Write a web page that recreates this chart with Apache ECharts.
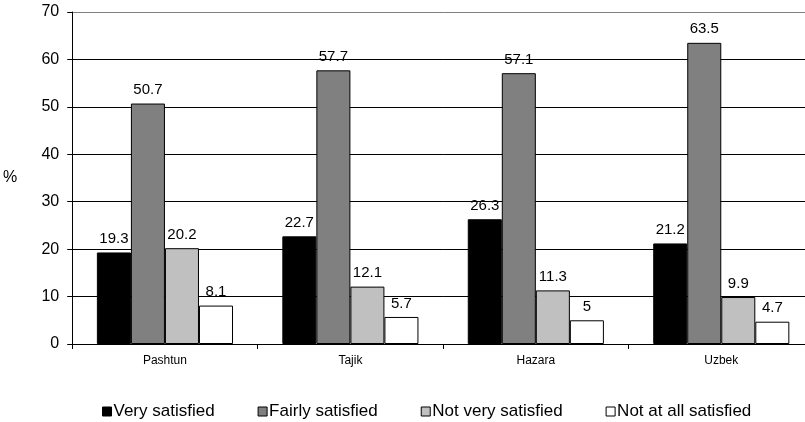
<!DOCTYPE html>
<html><head><meta charset="utf-8">
<script src="https://cdn.jsdelivr.net/npm/echarts@6/dist/echarts.min.js"></script>
<style>html,body{margin:0;padding:0;background:#fff;overflow:hidden}#c{width:814px;height:422px}</style>
</head><body><div id="c"></div>
<script>
const categories = ["Pashtun", "Tajik", "Hazara", "Uzbek"];
const seriesNames = ["Very satisfied", "Fairly satisfied", "Not very satisfied", "Not at all satisfied"];
const verySatisfied = [19.3, 22.7, 26.3, 21.2];
const fairlySatisfied = [50.7, 57.7, 57.1, 63.5];
const notVerySatisfied = [20.2, 12.1, 11.3, 9.9];
const notAtAllSatisfied = [8.1, 5.7, 5, 4.7];
const yTicks = [0, 10, 20, 30, 40, 50, 60, 70];

const colors = ["#000000", "#808080", "#c0c0c0", "#ffffff"];
const values = [verySatisfied, fairlySatisfied, notVerySatisfied, notAtAllSatisfied];
const font = "Liberation Sans, Arial, sans-serif";
const gridColors = yTicks.map((t, i) => i === yTicks.length - 1 ? '#808080' : '#000000');

const chart = echarts.init(document.getElementById('c'), null, {renderer: 'canvas'});
chart.setOption({
  animation: false,
  textStyle: {fontFamily: font},
  grid: {left: 72, right: 0, top: 12, bottom: 78},
  legend: {
    top: 398, left: 97, itemWidth: 9, itemHeight: 9, itemGap: 43,
    icon: 'rect',
    textStyle: {fontSize: 17, color: '#000', fontFamily: font, padding: [0, 0, 0, -3]},
    data: seriesNames.map((n, i) => ({name: n, itemStyle: {color: colors[i], borderColor: '#000', borderWidth: 1}}))
  },
  xAxis: {
    type: 'category', data: categories,
    axisLine: {lineStyle: {color: '#000', width: 1}},
    axisTick: {show: true, length: 5, lineStyle: {color: '#000'}},
    axisLabel: {fontSize: 12, color: '#000', margin: 11, fontFamily: font}
  },
  yAxis: {
    type: 'value', min: yTicks[0], max: yTicks[yTicks.length - 1], interval: 10,
    name: '%', nameLocation: 'middle', nameRotate: 0, nameGap: 55,
    nameTextStyle: {fontSize: 16, color: '#000', fontFamily: font},
    axisLine: {show: true, lineStyle: {color: '#000'}},
    axisTick: {show: true, length: 5, lineStyle: {color: '#000'}},
    axisLabel: {fontSize: 16, color: '#000', margin: 13, fontFamily: font},
    splitLine: {lineStyle: {color: gridColors, width: 1}}
  },
  series: seriesNames.map((n, i) => ({
    name: n, type: 'bar', data: values[i],
    barGap: '0%', barCategoryGap: '26.6%',
    itemStyle: {color: colors[i], borderColor: '#000', borderWidth: 1},
    label: {show: true, position: 'top', distance: 6, fontSize: 15, color: '#000', fontFamily: font}
  }))
});
</script></body></html>
